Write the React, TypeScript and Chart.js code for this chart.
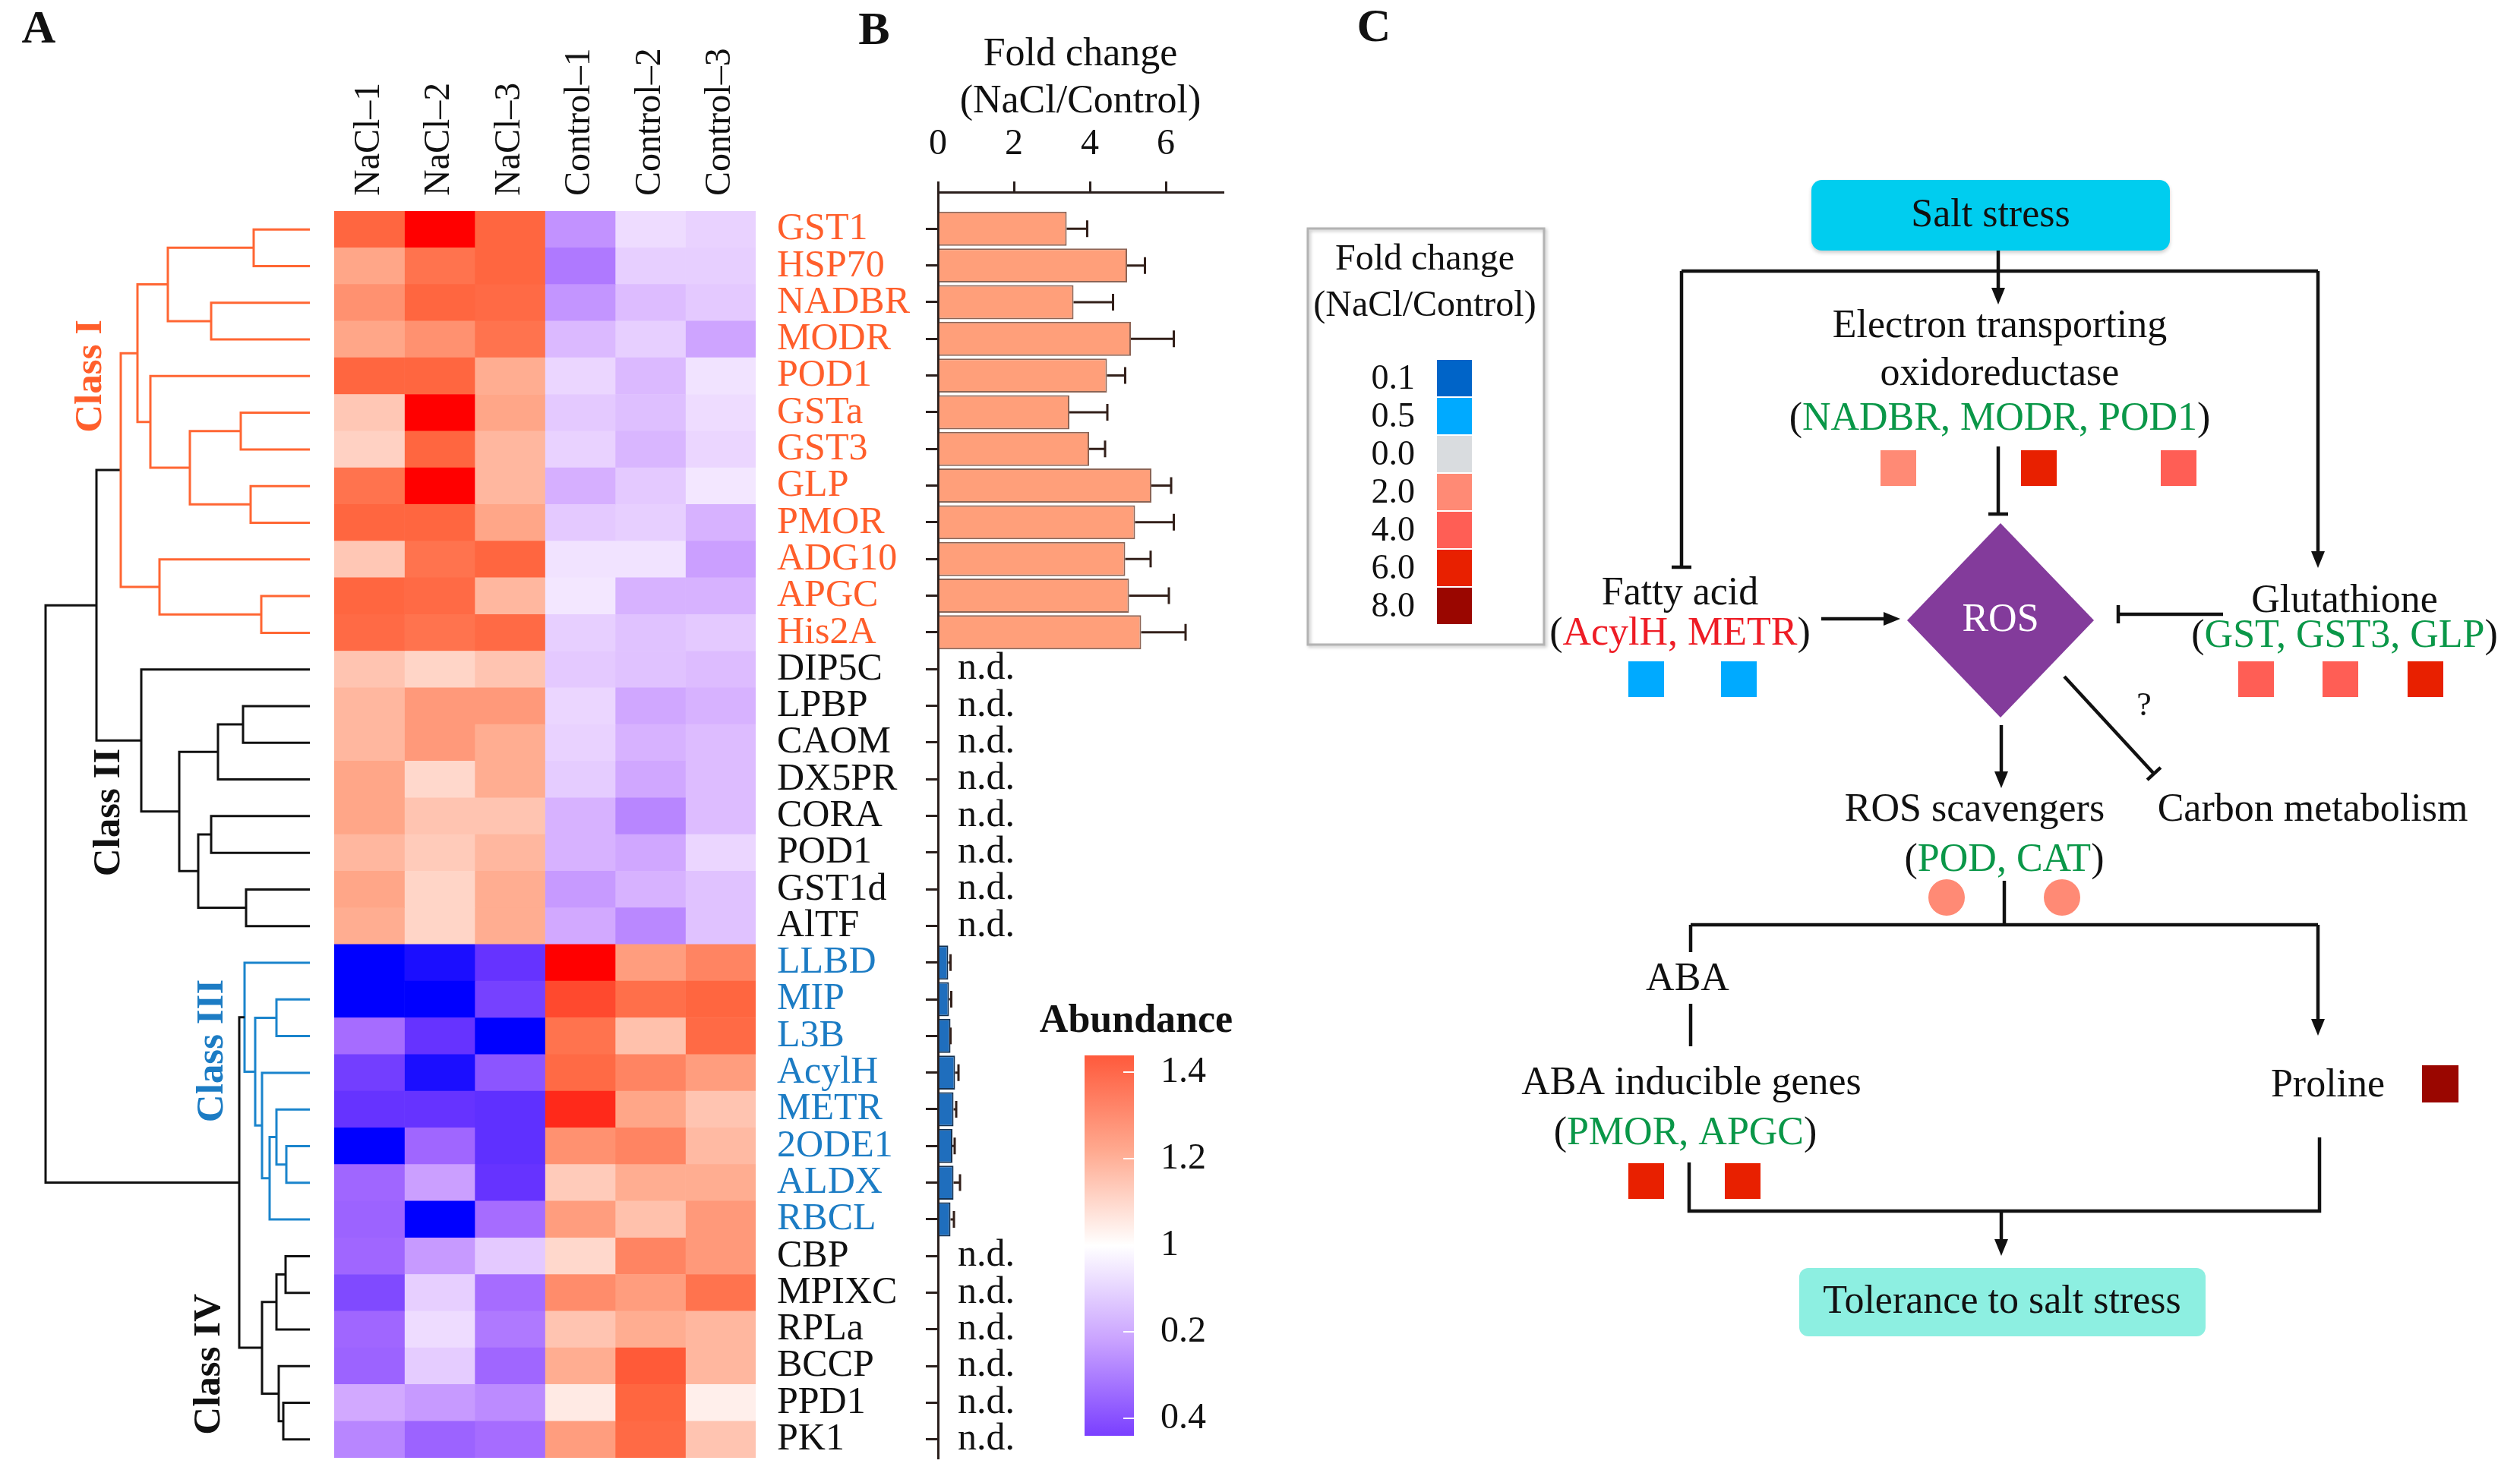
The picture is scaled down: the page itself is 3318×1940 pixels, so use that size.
import React, { useEffect, useRef } from "react";
import { Chart, registerables } from "chart.js";
Chart.register(...registerables);

const SERIF = '"Liberation Serif", "Times New Roman", serif';
Chart.defaults.font.family = SERIF;

// ---------------- DATA ----------------
const COLUMNS = ["NaCl–1", "NaCl–2", "NaCl–3", "Control–1", "Control–2", "Control–3"];
const GENES = ["GST1", "HSP70", "NADBR", "MODR", "POD1", "GSTa", "GST3", "GLP", "PMOR", "ADG10", "APGC", "His2A",
  "DIP5C", "LPBP", "CAOM", "DX5PR", "CORA", "POD1", "GST1d", "AlTF",
  "LLBD", "MIP", "L3B", "AcylH", "METR", "2ODE1", "ALDX", "RBCL",
  "CBP", "MPIXC", "RPLa", "BCCP", "PPD1", "PK1"];
const GENE_CLASS = [1, 1, 1, 1, 1, 1, 1, 1, 1, 1, 1, 1, 2, 2, 2, 2, 2, 2, 2, 2, 3, 3, 3, 3, 3, 3, 3, 3, 4, 4, 4, 4, 4, 4];
const CLASS_NAMES = ["Class I", "Class II", "Class III", "Class IV"];

// relative abundance per sample column
const NACL_1 = [1.45, 1.3, 1.35, 1.3, 1.45, 1.2, 1.17, 1.42, 1.45, 1.2, 1.45, 1.44, 1.21, 1.25, 1.25, 1.3, 1.3, 1.25, 1.3, 1.28, 0.0, 0.0, 0.5, 0.34, 0.3, 0.0, 0.48, 0.47, 0.48, 0.38, 0.48, 0.47, 0.74, 0.6];
const NACL_2 = [1.7, 1.42, 1.45, 1.35, 1.45, 1.7, 1.45, 1.7, 1.45, 1.42, 1.44, 1.42, 1.16, 1.33, 1.33, 1.15, 1.21, 1.19, 1.16, 1.16, 0.08, 0.0, 0.3, 0.08, 0.3, 0.48, 0.7, 0.0, 0.68, 0.86, 0.9, 0.85, 0.68, 0.47];
const NACL_3 = [1.45, 1.45, 1.44, 1.42, 1.28, 1.3, 1.25, 1.25, 1.3, 1.45, 1.25, 1.44, 1.21, 1.33, 1.28, 1.28, 1.21, 1.25, 1.28, 1.28, 0.3, 0.35, 0.0, 0.42, 0.28, 0.28, 0.3, 0.5, 0.84, 0.5, 0.55, 0.48, 0.62, 0.5];
const CONTROL_1 = [0.65, 0.55, 0.66, 0.79, 0.88, 0.84, 0.87, 0.76, 0.84, 0.92, 0.93, 0.86, 0.84, 0.88, 0.87, 0.85, 0.77, 0.77, 0.68, 0.74, 1.7, 1.52, 1.42, 1.44, 1.6, 1.35, 1.19, 1.32, 1.15, 1.36, 1.21, 1.28, 1.08, 1.32];
const CONTROL_2 = [0.9, 0.86, 0.8, 0.86, 0.79, 0.81, 0.78, 0.84, 0.86, 0.92, 0.77, 0.82, 0.82, 0.73, 0.77, 0.73, 0.6, 0.73, 0.77, 0.61, 1.32, 1.43, 1.22, 1.38, 1.3, 1.38, 1.28, 1.22, 1.38, 1.32, 1.28, 1.48, 1.45, 1.44];
const CONTROL_3 = [0.87, 0.86, 0.84, 0.72, 0.92, 0.9, 0.88, 0.93, 0.77, 0.7, 0.77, 0.84, 0.8, 0.77, 0.8, 0.8, 0.8, 0.88, 0.82, 0.82, 1.38, 1.45, 1.44, 1.32, 1.21, 1.24, 1.28, 1.33, 1.33, 1.42, 1.25, 1.25, 1.06, 1.21];
const COLUMN_VALUES = [NACL_1, NACL_2, NACL_3, CONTROL_1, CONTROL_2, CONTROL_3];

// fold change (NaCl/Control); null = n.d.
const FOLD_CHANGE = [3.39, 4.98, 3.57, 5.08, 4.45, 3.46, 3.98, 5.62, 5.19, 4.93, 5.03, 5.35,
  null, null, null, null, null, null, null, null,
  0.27, 0.29, 0.33, 0.45, 0.41, 0.38, 0.41, 0.33,
  null, null, null, null, null, null];
const FOLD_ERROR = [0.54, 0.47, 1.04, 1.13, 0.48, 1.0, 0.42, 0.52, 1.02, 0.67, 1.05, 1.17,
  null, null, null, null, null, null, null, null,
  0.06, 0.06, 0.0, 0.09, 0.07, 0.06, 0.17, 0.09,
  null, null, null, null, null, null];
const FOLD_TICK_STEP = 2;
const FOLD_MAX = 7.5;

const ABUNDANCE_TICKS = ["1.4", "1.2", "1", "0.2", "0.4"];

// dendrogram: [height, left, right]; numbers are leaf indices
const TREE_CLASS_I = [2.49,
  [2.27, [1.87, [0.74, 0, 1], [1.30, 2, 3]], [2.10, 4, [1.58, [0.91, 5, 6], [0.78, 7, 8]]]],
  [1.98, 9, [0.64, 10, 11]]];
const TREE_CLASS_II = [2.22, 12, [1.72, [1.21, [0.88, 13, 14], 15], [1.47, [1.30, 16, 17], [0.84, 18, 19]]]];
const TREE_CLASS_III = [0.86, 20, [0.72, [0.44, 21, 22], [0.63, 23, [0.53, [0.44, 24, [0.31, 25, 26]], 27]]]];
const TREE_CLASS_IV = [0.63, [0.44, [0.32, 28, 29], 30], [0.41, 31, [0.35, 32, 33]]];
const TREE_I_II = 2.81;
const TREE_III_IV = 0.93;
const TREE_ROOT = 3.48;

// Panel C fold-change levels
const FC_LEVELS = ["0.1", "0.5", "0.0", "2.0", "4.0", "6.0", "8.0"];
const FC_COLORS = ["#0064C8", "#00AAFF", "#D9DCDF", "#FF8A75", "#FF5E55", "#E82000", "#9A0600"];
const ETO_LEVELS = [3, 5, 4];      // NADBR, MODR, POD1
const FATTY_LEVELS = [1, 1];       // AcylH, METR
const GLUT_LEVELS = [4, 4, 5];     // GST, GST3, GLP
const SCAV_LEVELS = [3, 3];        // POD, CAT
const ABA_LEVELS = [5, 5];         // PMOR, APGC
const PROLINE_LEVEL = 6;

// ---------------- STYLE ----------------
const ORANGE_TXT = "#FF5E2B";
const BLUE_TXT = "#1C7CC4";
const ORANGE_LINE = "#FF6633";
const BLUE_LINE = "#1A84CC";
const BLACK = "#111111";
const GREEN = "#0A9748";
const RED_TXT = "#EE1C25";
const CLASS_TXT = [null, ORANGE_TXT, BLACK, BLUE_TXT, BLACK];

const HEAT_STOPS: [number, string][] = [
  [0.0, "#0000FF"], [0.3, "#6633FF"], [0.5, "#A66CFF"], [0.75, "#D4ACFF"], [0.9, "#EEDCFF"],
  [1.0, "#FFFFFF"], [1.15, "#FFD8CC"], [1.3, "#FFA688"], [1.45, "#FF6640"], [1.7, "#FF0000"],
];

function hexToRgb(h: string) {
  const n = parseInt(h.slice(1), 16);
  return [(n >> 16) & 255, (n >> 8) & 255, n & 255];
}
function heatColor(v: number) {
  if (v <= HEAT_STOPS[0][0]) return HEAT_STOPS[0][1];
  for (let i = 1; i < HEAT_STOPS.length; i++) {
    const [v1, c1] = HEAT_STOPS[i];
    const [v0, c0] = HEAT_STOPS[i - 1];
    if (v <= v1) {
      const t = (v - v0) / (v1 - v0);
      const a = hexToRgb(c0), b = hexToRgb(c1);
      const m = a.map((x, k) => Math.round(x + (b[k] - x) * t));
      return `rgb(${m[0]},${m[1]},${m[2]})`;
    }
  }
  return HEAT_STOPS[HEAT_STOPS.length - 1][1];
}

function panelLetter(ctx: CanvasRenderingContext2D, t: string, x: number, y: number) {
  ctx.save();
  ctx.font = `bold 62px ${SERIF}`;
  ctx.fillStyle = BLACK;
  ctx.textAlign = "center";
  ctx.textBaseline = "middle";
  ctx.fillText(t, x, y);
  ctx.restore();
}

// ---------------- DENDROGRAM ----------------
function buildSegments() {
  const segs: Record<string, any[]> = {};
  const push = (color: string, A: any, B: any, h: number) => {
    (segs[color] = segs[color] || []).push(
      { x: A.h, y: A.y }, { x: h, y: A.y }, { x: h, y: B.y }, { x: B.h, y: B.y }, { x: null, y: null });
  };
  const walk = (t: any, color: string): { y: number; h: number } => {
    if (typeof t === "number") return { y: t + 0.5, h: 0 };
    const A = walk(t[1], color), B = walk(t[2], color);
    push(color, A, B, t[0]);
    return { y: (A.y + B.y) / 2, h: t[0] };
  };
  const tree = [TREE_ROOT,
    [TREE_I_II, { c: ORANGE_LINE, t: TREE_CLASS_I }, { c: BLACK, t: TREE_CLASS_II }],
    [TREE_III_IV, { c: BLUE_LINE, t: TREE_CLASS_III }, { c: BLACK, t: TREE_CLASS_IV }]];
  const walkTop = (t: any): { y: number; h: number } => {
    if (t && t.c) return walk(t.t, t.c);
    const A = walkTop(t[1]), B = walkTop(t[2]);
    push(BLACK, A, B, t[0]);
    return { y: (A.y + B.y) / 2, h: t[0] };
  };
  walkTop(tree);
  return segs;
}

function makeDendrogram(canvas: HTMLCanvasElement) {
  const segs = buildSegments();
  const classLabelPlugin = {
    id: "classLabels",
    afterDraw(chart: any) {
      const { ctx } = chart;
      const xs = chart.scales.x, ys = chart.scales.y;
      const spots = [[2.88, 4.5, ORANGE_TXT], [2.64, 16.4, BLACK], [1.28, 22.9, BLUE_TXT], [1.32, 31.45, BLACK]];
      ctx.save();
      ctx.font = `bold 51px ${SERIF}`;
      ctx.textAlign = "center";
      ctx.textBaseline = "middle";
      spots.forEach((s: any, i) => {
        ctx.save();
        ctx.translate(xs.getPixelForValue(s[0]), ys.getPixelForValue(s[1]));
        ctx.rotate(-Math.PI / 2);
        ctx.fillStyle = s[2];
        ctx.fillText(CLASS_NAMES[i], 0, 0);
        ctx.restore();
      });
      ctx.restore();
      panelLetter(ctx, "A", 51, 40);
    },
  };
  return new Chart(canvas, {
    type: "scatter",
    data: {
      datasets: Object.entries(segs).map(([color, data]) => ({
        data, showLine: true, spanGaps: false, borderColor: color, borderWidth: 3,
        pointRadius: 0, clip: false, borderJoinStyle: "miter",
      })) as any,
    },
    options: {
      responsive: false, animation: false, devicePixelRatio: 1,
      layout: { padding: { left: 60, right: 32, top: 278, bottom: 20 } },
      plugins: { legend: { display: false }, tooltip: { enabled: false } },
      scales: {
        x: { type: "linear", min: 0, max: TREE_ROOT, reverse: true, display: false },
        y: { type: "linear", min: 0, max: GENES.length, reverse: true, display: false },
      },
    } as any,
    plugins: [classLabelPlugin],
  });
}

// ---------------- HEATMAP ----------------
function makeHeatmap(canvas: HTMLCanvasElement) {
  const headerPlugin = {
    id: "headers",
    afterDraw(chart: any) {
      const { ctx } = chart;
      const xs = chart.scales.x;
      ctx.save();
      ctx.font = `48px ${SERIF}`;
      ctx.fillStyle = BLACK;
      ctx.textAlign = "left";
      ctx.textBaseline = "middle";
      COLUMNS.forEach((c, i) => {
        ctx.save();
        ctx.translate(xs.getPixelForValue(i + 0.5), 258);
        ctx.rotate(-Math.PI / 2);
        ctx.fillText(c, 0, 0);
        ctx.restore();
      });
      ctx.restore();
    },
  };
  return new Chart(canvas, {
    type: "bar",
    data: {
      labels: GENES,
      datasets: COLUMN_VALUES.map((vals, c) => ({
        label: COLUMNS[c],
        data: vals.map(() => [c, c + 1]),
        backgroundColor: vals.map(heatColor),
        borderWidth: 0,
        barPercentage: 1,
        categoryPercentage: 1,
        grouped: false,
      })) as any,
    },
    options: {
      indexAxis: "y",
      responsive: false, animation: false, devicePixelRatio: 1,
      layout: { padding: { left: 440, right: 0, top: 278, bottom: 20 } },
      plugins: { legend: { display: false }, tooltip: { enabled: false } },
      scales: {
        x: { type: "linear", min: 0, max: COLUMNS.length, display: false },
        y: {
          type: "category", position: "right",
          grid: { display: false }, border: { display: false },
          ticks: {
            autoSkip: false, padding: 20, crossAlign: "near",
            font: { family: SERIF, size: 50 },
            color: (c: any) => CLASS_TXT[GENE_CLASS[c.index]],
          },
          afterFit: (s: any) => { s.width = 245; s.paddingTop = 0; s.paddingBottom = 0; },
        },
      },
    } as any,
    plugins: [headerPlugin],
  });
}

// ---------------- BAR CHART (B) ----------------
function makeBars(canvas: HTMLCanvasElement) {
  const points = FOLD_CHANGE.map((v, i) => ({ x: v, y: i })).filter((p) => p.x !== null);
  const OX = 1100;
  const extras = {
    id: "extras",
    afterDatasetsDraw(chart: any) {
      const { ctx } = chart;
      const xs = chart.scales.x, ys = chart.scales.y;
      ctx.save();
      // error bars
      ctx.strokeStyle = "#33201A";
      ctx.lineWidth = 3;
      FOLD_CHANGE.forEach((v, i) => {
        if (v === null) return;
        const e = FOLD_ERROR[i] || 0;
        const x0 = xs.getPixelForValue(v), x1 = xs.getPixelForValue(v + e), y = ys.getPixelForValue(i);
        ctx.beginPath();
        ctx.moveTo(x0, y); ctx.lineTo(x1, y);
        ctx.moveTo(x1, y - 11); ctx.lineTo(x1, y + 11);
        ctx.stroke();
      });
      // n.d.
      ctx.font = `50px ${SERIF}`;
      ctx.fillStyle = BLACK;
      ctx.textAlign = "left";
      ctx.textBaseline = "middle";
      FOLD_CHANGE.forEach((v, i) => {
        if (v !== null) return;
        ctx.fillText("n.d.", xs.getPixelForValue(0) + 26, ys.getPixelForValue(i));
      });
      ctx.restore();

      // abundance colour key
      ctx.save();
      ctx.translate(-OX, 0);
      ctx.font = `bold 52px ${SERIF}`;
      ctx.fillStyle = BLACK;
      ctx.textAlign = "center";
      ctx.textBaseline = "middle";
      ctx.fillText("Abundance", 1496, 1346);
      const gx = 1428, gy = 1390, gw = 65, gh = 501;
      const g = ctx.createLinearGradient(0, gy, 0, gy + gh);
      g.addColorStop(0, "#FF5A3C");
      g.addColorStop(0.25, "#FFA98F");
      g.addColorStop(0.5, "#FFFFFF");
      g.addColorStop(0.75, "#C9A2FF");
      g.addColorStop(1, "#7A3FFF");
      ctx.fillStyle = g;
      ctx.fillRect(gx, gy, gw, gh);
      ctx.strokeStyle = "#FFFFFF";
      ctx.lineWidth = 2;
      ctx.font = `48px ${SERIF}`;
      ctx.textAlign = "left";
      ctx.fillStyle = BLACK;
      ABUNDANCE_TICKS.forEach((t, k) => {
        const y = 1412 + k * 114;
        ctx.beginPath(); ctx.moveTo(gx + gw - 14, y); ctx.lineTo(gx + gw, y); ctx.stroke();
        ctx.fillText(t, 1528, y);
      });
      ctx.restore();
    },
    afterDraw(chart: any) {
      panelLetter(chart.ctx, "B", 1151 - OX, 42);
    },
  };
  const axisCol = "#2A1F1C";
  return new Chart(canvas, {
    type: "bar",
    data: {
      datasets: [{
        data: points as any,
        backgroundColor: points.map((p) => (GENE_CLASS[p.y] === 1 ? "#FF9F7A" : "#1F6EBD")),
        borderColor: points.map((p) => (GENE_CLASS[p.y] === 1 ? "#8C6455" : "#14304F")),
        borderWidth: 2,
        barPercentage: 0.93,
        categoryPercentage: 1,
      }],
    },
    options: {
      indexAxis: "y",
      responsive: false, animation: false, devicePixelRatio: 1,
      layout: { padding: { left: 119, right: 110, top: 0, bottom: 20 } },
      plugins: { legend: { display: false }, tooltip: { enabled: false } },
      scales: {
        x: {
          type: "linear", position: "top", min: 0, max: FOLD_MAX,
          ticks: { stepSize: FOLD_TICK_STEP, includeBounds: false, padding: 20, color: BLACK, font: { family: SERIF, size: 48 } },
          grid: { drawOnChartArea: false, drawTicks: true, tickLength: 14, color: axisCol, lineWidth: 3 },
          border: { display: true, color: axisCol, width: 3 },
          title: {
            display: true, text: ["Fold change", "(NaCl/Control)"], color: BLACK,
            font: { family: SERIF, size: 52, lineHeight: 1.2 }, padding: { top: 41, bottom: 0 },
          },
          afterFit: (s: any) => { s.height = 253; },
        },
        y: {
          type: "linear", min: -1, max: GENES.length - 0.5, reverse: true, offset: false,
          ticks: { display: false, stepSize: 1, includeBounds: false },
          afterBuildTicks: (s: any) => { s.ticks = s.ticks.filter((t: any) => t.value >= 0 && t.value <= GENES.length - 1); },
          grid: { drawOnChartArea: false, drawTicks: true, tickLength: 16, color: axisCol, lineWidth: 3, offset: false },
          border: { display: true, color: axisCol, width: 3 },
          afterFit: (s: any) => { s.width = 16; },
        },
      },
    } as any,
    plugins: [extras],
  });
}

// ---------------- DIAGRAM (C) ----------------
function makeDiagram(canvas: HTMLCanvasElement) {
  const OX = 1700;
  const LW = 4.5;
  const arrow = (ctx: any, x1: number, y1: number, x2: number, y2: number) => {
    const a = Math.atan2(y2 - y1, x2 - x1), L = 22, W = 9;
    const bx = x2 - L * Math.cos(a), by = y2 - L * Math.sin(a);
    ctx.beginPath(); ctx.moveTo(x1, y1); ctx.lineTo(bx, by); ctx.stroke();
    ctx.beginPath(); ctx.moveTo(x2, y2);
    ctx.lineTo(bx + W * Math.sin(a), by - W * Math.cos(a));
    ctx.lineTo(bx - W * Math.sin(a), by + W * Math.cos(a));
    ctx.closePath(); ctx.fill();
  };
  const tbar = (ctx: any, x1: number, y1: number, x2: number, y2: number, half = 13) => {
    const a = Math.atan2(y2 - y1, x2 - x1);
    ctx.beginPath(); ctx.moveTo(x1, y1); ctx.lineTo(x2, y2); ctx.stroke();
    ctx.beginPath();
    ctx.moveTo(x2 - half * Math.sin(a), y2 + half * Math.cos(a));
    ctx.lineTo(x2 + half * Math.sin(a), y2 - half * Math.cos(a));
    ctx.stroke();
  };
  const line = (ctx: any, pts: number[][]) => {
    ctx.beginPath(); ctx.moveTo(pts[0][0], pts[0][1]);
    for (let i = 1; i < pts.length; i++) ctx.lineTo(pts[i][0], pts[i][1]);
    ctx.stroke();
  };
  const text = (ctx: any, t: string, x: number, y: number, color = BLACK) => {
    ctx.fillStyle = color; ctx.textAlign = "center"; ctx.fillText(t, x, y);
  };
  const mixed = (ctx: any, parts: [string, string][], cx: number, cy: number) => {
    const w = parts.reduce((s, [t]) => s + ctx.measureText(t).width, 0);
    let x = cx - w / 2;
    ctx.textAlign = "left";
    parts.forEach(([t, c]) => { ctx.fillStyle = c; ctx.fillText(t, x, cy); x += ctx.measureText(t).width; });
  };
  const squares = (ctx: any, xs: number[], y: number, levels: number[]) => {
    xs.forEach((x, i) => { ctx.fillStyle = FC_COLORS[levels[i]]; ctx.fillRect(x, y, 47, 47); });
  };

  const plugin = {
    id: "diagram",
    afterDraw(chart: any) {
      const ctx = chart.ctx as CanvasRenderingContext2D;
      ctx.save();
      ctx.translate(-OX, 0);
      ctx.textBaseline = "middle";

      // legend box
      ctx.save();
      ctx.shadowColor = "rgba(0,0,0,0.25)"; ctx.shadowBlur = 4; ctx.shadowOffsetX = 2; ctx.shadowOffsetY = 2;
      ctx.strokeStyle = "#B3B3B3"; ctx.lineWidth = 3;
      ctx.strokeRect(1722, 301, 311, 548);
      ctx.restore();
      ctx.font = `48px ${SERIF}`;
      text(ctx, "Fold change", 1876, 342);
      text(ctx, "(NaCl/Control)", 1876, 403);
      ctx.font = `46px ${SERIF}`;
      FC_LEVELS.forEach((lv, i) => {
        const y = 474 + i * 50;
        ctx.fillStyle = FC_COLORS[i];
        ctx.fillRect(1892, y, 46, 48);
        ctx.fillStyle = BLACK; ctx.textAlign = "right";
        ctx.fillText(lv, 1863, y + 26);
      });

      panelLetter(ctx, "C", 1809, 38);

      ctx.strokeStyle = BLACK; ctx.fillStyle = BLACK; ctx.lineWidth = LW;

      // salt stress box
      ctx.save();
      ctx.shadowColor = "rgba(0,0,0,0.2)"; ctx.shadowBlur = 5; ctx.shadowOffsetY = 3;
      ctx.fillStyle = "#00CDEF";
      ctx.beginPath(); (ctx as any).roundRect(2385, 237, 472, 93, 14); ctx.fill();
      ctx.restore();
      ctx.font = `52px ${SERIF}`;
      text(ctx, "Salt stress", 2621, 284);

      ctx.fillStyle = BLACK;
      arrow(ctx, 2631, 330, 2631, 401);
      line(ctx, [[2214, 357], [3052, 357]]);
      tbar(ctx, 2214, 357, 2214, 747);
      arrow(ctx, 3052, 357, 3052, 748);

      text(ctx, "Electron transporting", 2633, 430);
      text(ctx, "oxidoreductase", 2633, 493);
      mixed(ctx, [["(", BLACK], ["NADBR, MODR, POD1", GREEN], [")", BLACK]], 2633, 552);
      squares(ctx, [2476, 2661, 2845], 593, ETO_LEVELS);
      tbar(ctx, 2631, 588, 2631, 677);

      // ROS diamond
      ctx.fillStyle = "#833B9B";
      ctx.beginPath();
      ctx.moveTo(2634, 689); ctx.lineTo(2757, 817); ctx.lineTo(2634, 945); ctx.lineTo(2511, 817);
      ctx.closePath(); ctx.fill();
      text(ctx, "ROS", 2634, 817, "#FFFFFF");

      // fatty acid
      text(ctx, "Fatty acid", 2212, 782);
      mixed(ctx, [["(", BLACK], ["AcylH, METR", RED_TXT], [")", BLACK]], 2212, 835);
      squares(ctx, [2144, 2266], 871, FATTY_LEVELS);
      ctx.fillStyle = BLACK;
      arrow(ctx, 2398, 815, 2502, 815);

      // glutathione
      text(ctx, "Glutathione", 3087, 792);
      mixed(ctx, [["(", BLACK], ["GST, GST3, GLP", GREEN], [")", BLACK]], 3087, 838);
      squares(ctx, [2947, 3058, 3170], 871, GLUT_LEVELS);
      ctx.fillStyle = BLACK;
      tbar(ctx, 2927, 809, 2789, 809, 12);

      // to carbon metabolism (?)
      tbar(ctx, 2718, 891, 2836, 1019, 12);
      ctx.font = `44px ${SERIF}`;
      text(ctx, "?", 2823, 930);
      ctx.font = `52px ${SERIF}`;

      ctx.fillStyle = BLACK;
      arrow(ctx, 2635, 955, 2635, 1038);
      text(ctx, "ROS scavengers", 2600, 1067);
      text(ctx, "Carbon metabolism", 3045, 1067);
      mixed(ctx, [["(", BLACK], ["POD, CAT", GREEN], [")", BLACK]], 2639, 1133);
      [2563, 2715].forEach((cx, i) => {
        ctx.fillStyle = FC_COLORS[SCAV_LEVELS[i]];
        ctx.beginPath(); ctx.ellipse(cx, 1182, 24, 24, 0, 0, Math.PI * 2); ctx.fill();
      });
      ctx.fillStyle = BLACK;
      line(ctx, [[2639, 1160], [2639, 1218]]);
      line(ctx, [[2226, 1218], [3052, 1218]]);
      line(ctx, [[2226, 1218], [2226, 1254]]);
      text(ctx, "ABA", 2222, 1290);
      line(ctx, [[2226, 1322], [2226, 1378]]);
      arrow(ctx, 3052, 1218, 3052, 1364);

      text(ctx, "ABA inducible genes", 2227, 1427);
      mixed(ctx, [["(", BLACK], ["PMOR, APGC", GREEN], [")", BLACK]], 2219, 1493);
      squares(ctx, [2144, 2271], 1532, ABA_LEVELS);
      ctx.fillStyle = BLACK;
      text(ctx, "Proline", 3065, 1430);
      ctx.fillStyle = FC_COLORS[PROLINE_LEVEL];
      ctx.fillRect(3189, 1403, 48, 49);
      ctx.fillStyle = BLACK;

      line(ctx, [[2224, 1531], [2224, 1595], [3054, 1595], [3054, 1498]]);
      arrow(ctx, 2635, 1595, 2635, 1654);

      ctx.fillStyle = "#8DEFE1";
      ctx.beginPath(); (ctx as any).roundRect(2369, 1670, 535, 90, 12); ctx.fill();
      text(ctx, "Tolerance to salt stress", 2636, 1715);

      ctx.restore();
    },
  };
  return new Chart(canvas, {
    type: "scatter",
    data: { datasets: [] },
    options: {
      responsive: false, animation: false, devicePixelRatio: 1,
      plugins: { legend: { display: false }, tooltip: { enabled: false } },
      scales: { x: { display: false }, y: { display: false } },
    } as any,
    plugins: [plugin],
  });
}

export default function App() {
  const dendRef = useRef<HTMLCanvasElement>(null);
  const heatRef = useRef<HTMLCanvasElement>(null);
  const barRef = useRef<HTMLCanvasElement>(null);
  const diagRef = useRef<HTMLCanvasElement>(null);
  useEffect(() => {
    const charts = [
      makeDendrogram(dendRef.current!),
      makeHeatmap(heatRef.current!),
      makeBars(barRef.current!),
      makeDiagram(diagRef.current!),
    ];
    return () => charts.forEach((c) => c.destroy());
  }, []);
  const abs = (left: number, w: number): React.CSSProperties => ({ position: "absolute", left, top: 0, width: w, height: 1940 });
  return (
    <div style={{ position: "fixed", left: 0, top: 0, width: 3318, height: 1940, background: "#FFFFFF", overflow: "hidden" }}>
      <canvas ref={heatRef} width={1240} height={1940} style={abs(0, 1240)} />
      <canvas ref={dendRef} width={440} height={1940} style={abs(0, 440)} />
      <canvas ref={barRef} width={620} height={1940} style={abs(1100, 620)} />
      <canvas ref={diagRef} width={1618} height={1940} style={abs(1700, 1618)} />
    </div>
  );
}
